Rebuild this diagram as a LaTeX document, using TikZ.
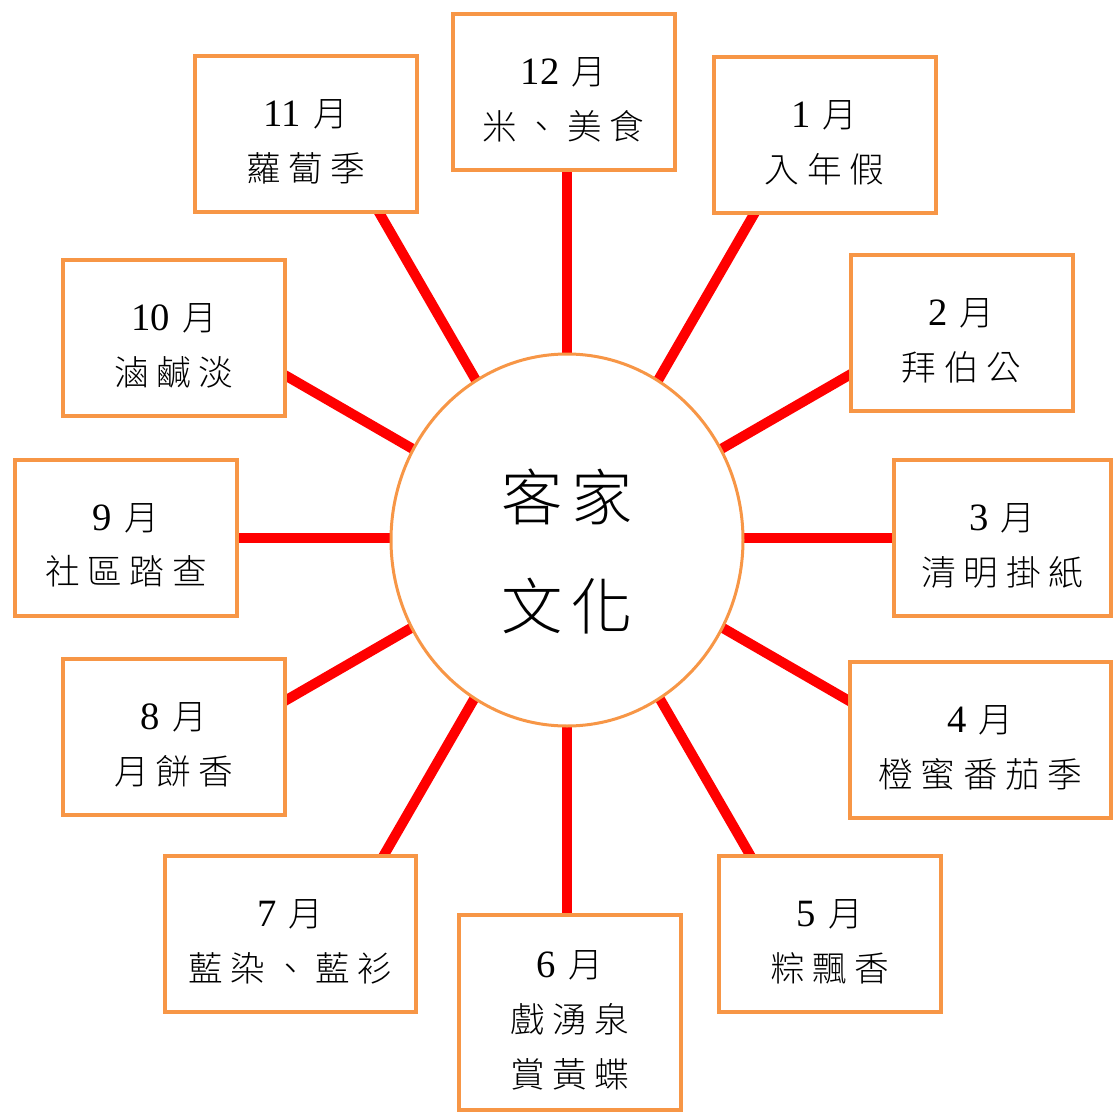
\documentclass[tikz,border=0pt]{standalone}
\usepackage{fontspec}
\setmainfont{Liberation Serif}
\newfontfamily\cjk{Noto Sans CJK TC Light}[LetterSpace=22]
\newfontfamily\cjkbig{Noto Sans CJK TC Light}[LetterSpace=14]
\usetikzlibrary{shapes.geometric}
\definecolor{boxorange}{HTML}{F79646}
\definecolor{spokered}{HTML}{FF0000}
\newcommand{\mo}[1]{\rule{0pt}{32pt}{\rmfamily\fontsize{29pt}{40pt}\selectfont #1}\hspace{0.35em}月}
\tikzset{
  monthbox/.style={draw=boxorange, line width=3pt, fill=white, inner sep=0pt,
    align=center, minimum width=166.5pt, minimum height=117pt,
    font=\fontsize{26pt}{41pt}\selectfont\cjk},
  spoke/.style={draw=spokered, line width=7.5pt},
  hub/.style={ellipse, draw=boxorange, line width=2.25pt, fill=white, inner sep=0pt,
    minimum width=264pt, minimum height=279pt, align=center,
    font=\fontsize{46pt}{82pt}\selectfont\cjkbig}
}
\begin{document}
\begin{tikzpicture}[x=0.75pt, y=-0.75pt]
\useasboundingbox (0,0) rectangle (1115,1113);
\coordinate (o) at (567,538);
% spokes
\draw[spoke] (o) -- ++(-90:400) coordinate (e12);
\draw[spoke] (o) -- ++(-60:420) coordinate (e1);
\draw[spoke] (o) -- ++(-30:360) coordinate (e2);
\draw[spoke] (o) -- ++(0:360) coordinate (e3);
\draw[spoke] (o) -- ++(30:360) coordinate (e4);
\draw[spoke] (o) -- ++(60:400) coordinate (e5);
\draw[spoke] (o) -- ++(90:410) coordinate (e6);
\draw[spoke] (o) -- ++(120:400) coordinate (e7);
\draw[spoke] (o) -- ++(150:360) coordinate (e8);
\draw[spoke] (o) -- ++(180:360) coordinate (e9);
\draw[spoke] (o) -- ++(210:360) coordinate (e10);
\draw[spoke] (o) -- ++(240:420) coordinate (e11);
% hub
\node[hub] (c) at (567,540) {\rule{0pt}{56pt}客家\\文化};
% boxes
\node[monthbox] (b12) at (563.5,92) {\mo{12}\\米、美食};
\node[monthbox] (b1) at (824.5,135) {\mo{1}\\入年假};
\node[monthbox] (b2) at (961.5,333) {\mo{2}\\拜伯公};
\node[monthbox, minimum width=162.75pt] (b3) at (1002.5,538) {\mo{3}\\清明掛紙};
\node[monthbox, minimum width=195.75pt] (b4) at (980.5,740) {\mo{4}\\橙蜜番茄季};
\node[monthbox] (b5) at (830,934) {\mo{5}\\粽飄香};
\node[monthbox, minimum height=146.25pt] (b6) at (570,1012.5) {\mo{6}\\戲湧泉\\賞黃蝶};
\node[monthbox, minimum width=188.25pt] (b7) at (290.5,934) {\mo{7}\\藍染、藍衫};
\node[monthbox] (b8) at (174,737) {\mo{8}\\月餅香};
\node[monthbox] (b9) at (126,537.5) {\mo{9}\\社區踏查};
\node[monthbox] (b10) at (174,338) {\mo{10}\\滷鹹淡};
\node[monthbox] (b11) at (306,134) {\mo{11}\\蘿蔔季};
\end{tikzpicture}
\end{document}
